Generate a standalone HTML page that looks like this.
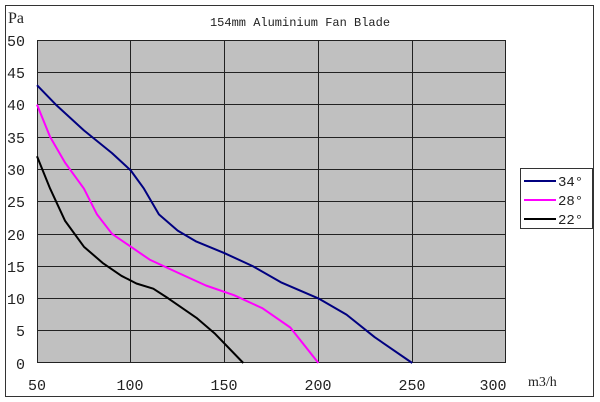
<!DOCTYPE html>
<html><head><meta charset="utf-8"><style>
html,body{margin:0;padding:0;background:#fff;width:600px;height:402px;overflow:hidden}
text{font-family:"Liberation Mono","DejaVu Sans Mono",monospace;fill:#222}
text.s{font-family:"Liberation Serif",serif}
</style></head><body>
<svg width="600" height="402" viewBox="0 0 600 402" xmlns="http://www.w3.org/2000/svg">
<rect x="5.5" y="5.5" width="588" height="391" fill="#fff" stroke="#333" stroke-width="1"/>
<text x="300" y="26" font-size="12" text-anchor="middle">154mm Aluminium Fan Blade</text>
<rect x="37" y="40" width="469" height="323" fill="#c0c0c0"/>
<g stroke="#222" stroke-width="1">
<line x1="37" y1="40.5" x2="506" y2="40.5"/>
<line x1="37" y1="72.5" x2="506" y2="72.5"/>
<line x1="37" y1="104.5" x2="506" y2="104.5"/>
<line x1="37" y1="137.5" x2="506" y2="137.5"/>
<line x1="37" y1="169.5" x2="506" y2="169.5"/>
<line x1="37" y1="201.5" x2="506" y2="201.5"/>
<line x1="37" y1="234.5" x2="506" y2="234.5"/>
<line x1="37" y1="266.5" x2="506" y2="266.5"/>
<line x1="37" y1="298.5" x2="506" y2="298.5"/>
<line x1="37" y1="330.5" x2="506" y2="330.5"/>
<line x1="37" y1="362.5" x2="506" y2="362.5"/>
<line x1="37.5" y1="40" x2="37.5" y2="363"/>
<line x1="130.5" y1="40" x2="130.5" y2="363"/>
<line x1="224.5" y1="40" x2="224.5" y2="363"/>
<line x1="318.5" y1="40" x2="318.5" y2="363"/>
<line x1="412.5" y1="40" x2="412.5" y2="363"/>
<line x1="505.5" y1="40" x2="505.5" y2="363"/>
</g>
<g font-size="15">
<text class="s" x="8" y="23" font-size="16">Pa</text>
<text x="7" y="46">50</text><text x="7" y="78">45</text><text x="7" y="110">40</text>
<text x="7" y="143">35</text><text x="7" y="175">30</text><text x="7" y="207">25</text>
<text x="7" y="240">20</text><text x="7" y="272">15</text><text x="7" y="304">10</text>
<text x="16" y="336">5</text><text x="16" y="369">0</text>
<text x="37" y="390" text-anchor="middle">50</text>
<text x="130" y="390" text-anchor="middle">100</text>
<text x="224" y="390" text-anchor="middle">150</text>
<text x="318" y="390" text-anchor="middle">200</text>
<text x="412" y="390" text-anchor="middle">250</text>
<text x="493" y="390" text-anchor="middle">300</text>
<text class="s" x="528" y="386" font-size="14">m3/h</text>
</g>
<g fill="none" stroke-width="2" stroke-linejoin="round">
<polyline stroke="#000080" points="37,85.2 55.8,104.6 83.9,130.4 112,153.1 130.8,170.5 143.9,188.6 158.9,214.4 177.7,230.6 196.4,241.6 224.6,253.2 252.7,266.1 280.9,282.3 318.4,298.4 346.5,314.6 374.7,337.2 412.2,363"/>
<polyline stroke="#ff00ff" points="37,104.6 50.1,136.9 65.1,162.7 83.9,188.6 97,214.4 112,233.8 130.8,246.7 149.6,259.6 177.7,272.6 205.9,285.5 234,295.2 262.2,308.1 290.3,327.5 318.4,363"/>
<polyline stroke="#000000" points="37,156.3 50.1,188.6 65.1,220.9 83.9,246.7 102.6,262.9 121.4,275.8 136.4,283.5 153.3,288.7 168.3,298.4 196.4,317.8 215.2,333.9 243.3,363"/>
</g>
<rect x="520.5" y="168.5" width="72" height="60" fill="#fff" stroke="#333"/>
<g stroke-width="2">
<line x1="524" y1="181" x2="556" y2="181" stroke="#000080"/>
<line x1="524" y1="200" x2="556" y2="200" stroke="#ff00ff"/>
<line x1="524" y1="219" x2="556" y2="219" stroke="#000"/>
</g>
<g font-size="14">
<text x="558" y="186">34°</text><text x="558" y="205">28°</text><text x="558" y="224">22°</text>
</g>
</svg>
</body></html>
